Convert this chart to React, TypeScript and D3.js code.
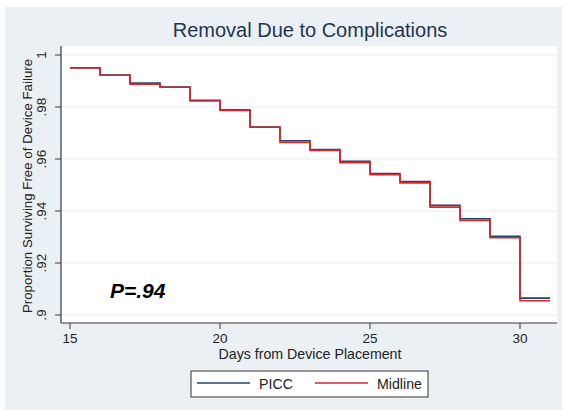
import React from "react";
import * as d3 from "d3";

const days = [15, 16, 17, 18, 19, 20, 21, 22, 23, 24, 25, 26, 27, 28, 29, 30, 31];
const picc = [0.9951, 0.9923, 0.9892, 0.9877, 0.9826, 0.9789, 0.9723, 0.967, 0.9636, 0.9591, 0.9544, 0.9513, 0.9422, 0.937, 0.9303, 0.9065];
const midline = [0.995, 0.9922, 0.9888, 0.9876, 0.9823, 0.9787, 0.9722, 0.9664, 0.9633, 0.9586, 0.954, 0.9508, 0.9415, 0.9364, 0.9297, 0.9055];
const xTicks = [15, 20, 25, 30];
const yTicks = [0.9, 0.92, 0.94, 0.96, 0.98, 1];
const yTickLabels = [".9", ".92", ".94", ".96", ".98", "1"];
const seriesNames = ["PICC", "Midline"];
const seriesColors = ["#1a476f", "#e0232b"];

const W = 566;
const H = 410;
const FONT = "'Liberation Sans', Arial, sans-serif";

export default function App() {
  const left = 61, right = 557, top = 46, bottom = 323;
  const x = d3.scaleLinear().domain([15, 30]).range([70, 520]);
  const y = d3.scaleLinear().domain([0.9, 1]).range([315, 55]);

  const stepLine = d3
    .line<[number, number]>()
    .x((d) => x(d[0]))
    .y((d) => y(d[1]))
    .curve(d3.curveStepAfter);

  const toPts = (vals: number[]): [number, number][] => {
    const pts: [number, number][] = vals.map((v, i) => [days[i], v]);
    pts.push([days[vals.length], vals[vals.length - 1]]);
    return pts;
  };

  const series = [picc, midline];

  return (
    <svg width={W} height={H} style={{ display: "block", position: "absolute", left: 0, top: 0 }}>
      <rect x={0} y={0} width={W} height={H} fill="#ffffff" />
      <rect x={5} y={7} width={557} height={403} fill="#eaf0f3" />
      <rect x={left} y={top} width={right - left} height={bottom - top} fill="#ffffff" />
      {yTicks.map((t) => (
        <line key={"g" + t} x1={left} x2={right} y1={y(t)} y2={y(t)} stroke="#e6edf1" strokeWidth={1} />
      ))}
      {series.map((s, i) => (
        <path key={i} d={stepLine(toPts(s)) || ""} fill="none" stroke={seriesColors[i]} strokeWidth={1.6} />
      ))}
      <line x1={left} x2={left} y1={top} y2={bottom} stroke="#3a3a3a" strokeWidth={1.2} />
      <line x1={left} x2={right} y1={bottom} y2={bottom} stroke="#3a3a3a" strokeWidth={1.2} />
      {yTicks.map((t, i) => (
        <g key={"yt" + t}>
          <line x1={left - 6} x2={left} y1={y(t)} y2={y(t)} stroke="#3a3a3a" strokeWidth={1} />
          <text
            transform={`translate(${46},${y(t)}) rotate(-90)`}
            textAnchor="middle"
            fontFamily={FONT}
            fontSize={13.5}
            fill="#222"
          >
            {yTickLabels[i]}
          </text>
        </g>
      ))}
      {xTicks.map((t) => (
        <g key={"xt" + t}>
          <line x1={x(t)} x2={x(t)} y1={bottom} y2={bottom + 6} stroke="#3a3a3a" strokeWidth={1} />
          <text x={x(t)} y={343} textAnchor="middle" fontFamily={FONT} fontSize={13.5} fill="#222">
            {t}
          </text>
        </g>
      ))}
      <text
        transform={`translate(${32},${186}) rotate(-90)`}
        textAnchor="middle"
        fontFamily={FONT}
        fontSize={13.3}
        fill="#222"
      >
        Proportion Surviving Free of Device Failure
      </text>
      <text x={310} y={359} textAnchor="middle" fontFamily={FONT} fontSize={14.2} fill="#222">
        Days from Device Placement
      </text>
      <text x={310} y={37} textAnchor="middle" fontFamily={FONT} fontSize={20} fill="#1e3555">
        Removal Due to Complications
      </text>
      <text x={110} y={298} fontFamily={FONT} fontSize={21} fontWeight="bold" fontStyle="italic" fill="#000">
        P=.94
      </text>
      <rect x={191} y={371} width={237} height={26} fill="#ffffff" stroke="#333" strokeWidth={1} />
      <line x1={197} x2={250} y1={383} y2={383} stroke={seriesColors[0]} strokeWidth={1.5} />
      <text x={259} y={389} fontFamily={FONT} fontSize={14.2} fill="#222">{seriesNames[0]}</text>
      <line x1={315} x2={368} y1={383} y2={383} stroke={seriesColors[1]} strokeWidth={1.5} />
      <text x={377} y={389} fontFamily={FONT} fontSize={14.2} fill="#222">{seriesNames[1]}</text>
    </svg>
  );
}
